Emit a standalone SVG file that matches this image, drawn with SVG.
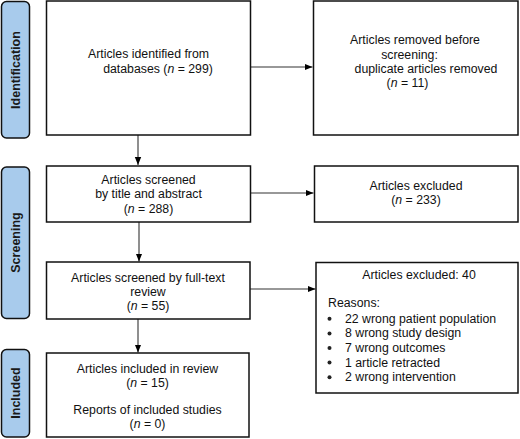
<svg xmlns="http://www.w3.org/2000/svg" width="520" height="439" viewBox="0 0 520 439">
<style>
.box{fill:#fff;stroke:#111;stroke-width:1.5}
.lab{fill:#a8cbec;stroke:#111;stroke-width:1.5}
.t{font-family:"Liberation Sans",Arial,sans-serif;font-size:12.3px;fill:#111}
.c{text-anchor:middle}
.lt{font-family:"Liberation Sans",Arial,sans-serif;font-size:12.5px;font-weight:bold;fill:#1a1a1a;text-anchor:middle}
.ln{stroke:#333;stroke-width:1.1;fill:none}
.bul{fill:#222}
</style>
<defs>
<marker id="ah" viewBox="0 0 10 10" refX="10" refY="5" markerWidth="8" markerHeight="8" markerUnits="userSpaceOnUse" orient="auto">
<path d="M0,1 L10,5 L0,9 z" fill="#000"/>
</marker>
</defs>
<g id="label-identification">
<rect class="lab" x="1.5" y="1.5" width="28" height="136.5" rx="5"/>
<text class="lt" transform="translate(19.5,70) rotate(-90)">Identification</text>
</g>
<g id="label-screening">
<rect class="lab" x="1.5" y="167" width="28" height="151.5" rx="5"/>
<text class="lt" transform="translate(19.5,242.5) rotate(-90)">Screening</text>
</g>
<g id="label-included">
<rect class="lab" x="1.5" y="349.5" width="28" height="87.5" rx="5"/>
<text class="lt" transform="translate(19.5,393) rotate(-90)">Included</text>
</g>
<g id="connectors">
<line class="ln" x1="138" y1="135" x2="138" y2="165" marker-end="url(#ah)"/>
<line class="ln" x1="139" y1="222" x2="139" y2="261.5" marker-end="url(#ah)"/>
<line class="ln" x1="138" y1="319" x2="138" y2="352.5" marker-end="url(#ah)"/>
<line class="ln" x1="251" y1="67" x2="312.5" y2="67" marker-end="url(#ah)"/>
<line class="ln" x1="251" y1="193" x2="313.5" y2="193" marker-end="url(#ah)"/>
<line class="ln" x1="250" y1="289" x2="315.5" y2="289" marker-end="url(#ah)"/>
</g>
<g id="node-identified">
<rect class="box" x="46.5" y="1" width="204" height="134"/>
<text class="t c" x="148.5" y="58.3">Articles identified from</text>
<text class="t c" x="158" y="72.7">databases (<tspan font-style="italic">n</tspan> = 299)</text>
</g>
<g id="node-removed">
<rect class="box" x="313.5" y="1" width="204.5" height="134"/>
<text class="t c" x="415" y="44.3">Articles removed before</text>
<text class="t c" x="409.5" y="58.7">screening:</text>
<text class="t c" x="426" y="73">duplicate articles removed</text>
<text class="t c" x="407.5" y="87.4">(<tspan font-style="italic">n</tspan> = 11)</text>
</g>
<g id="node-screened">
<rect class="box" x="46.5" y="166" width="204" height="56"/>
<text class="t c" x="148.5" y="184">Articles screened</text>
<text class="t c" x="148.5" y="198.3">by title and abstract</text>
<text class="t c" x="148.5" y="212.7">(<tspan font-style="italic">n</tspan> = 288)</text>
</g>
<g id="node-excluded1">
<rect class="box" x="314.5" y="166" width="203.5" height="56"/>
<text class="t c" x="416" y="190">Articles excluded</text>
<text class="t c" x="416" y="204.3">(<tspan font-style="italic">n</tspan> = 233)</text>
</g>
<g id="node-fulltext">
<rect class="box" x="46.5" y="262" width="203.5" height="57"/>
<text class="t c" x="148" y="281.7">Articles screened by full-text</text>
<text class="t c" x="148" y="295.8">review</text>
<text class="t c" x="148" y="310">(<tspan font-style="italic">n</tspan> = 55)</text>
</g>
<g id="node-excluded2">
<rect class="box" x="316" y="262.5" width="202" height="130.5"/>
<text class="t c" x="419" y="279.3">Articles excluded: 40</text>
<text class="t" x="328" y="306.7">Reasons:</text>
<circle class="bul" cx="329.5" cy="318.8" r="2"/>
<circle class="bul" cx="329.5" cy="333.4" r="2"/>
<circle class="bul" cx="329.5" cy="348" r="2"/>
<circle class="bul" cx="329.5" cy="362.6" r="2"/>
<circle class="bul" cx="329.5" cy="377.2" r="2"/>
<text class="t" x="345" y="322.7">22 wrong patient population</text>
<text class="t" x="345" y="337.3">8 wrong study design</text>
<text class="t" x="345" y="351.9">7 wrong outcomes</text>
<text class="t" x="345" y="366.5">1 article retracted</text>
<text class="t" x="345" y="381.1">2 wrong intervention</text>
</g>
<g id="node-included">
<rect class="box" x="46.5" y="353" width="202.5" height="84"/>
<text class="t c" x="147.5" y="372.7">Articles included in review</text>
<text class="t c" x="147.5" y="386.5">(<tspan font-style="italic">n</tspan> = 15)</text>
<text class="t c" x="147.5" y="413.5">Reports of included studies</text>
<text class="t c" x="147.5" y="428">(<tspan font-style="italic">n</tspan> = 0)</text>
</g>
</svg>
